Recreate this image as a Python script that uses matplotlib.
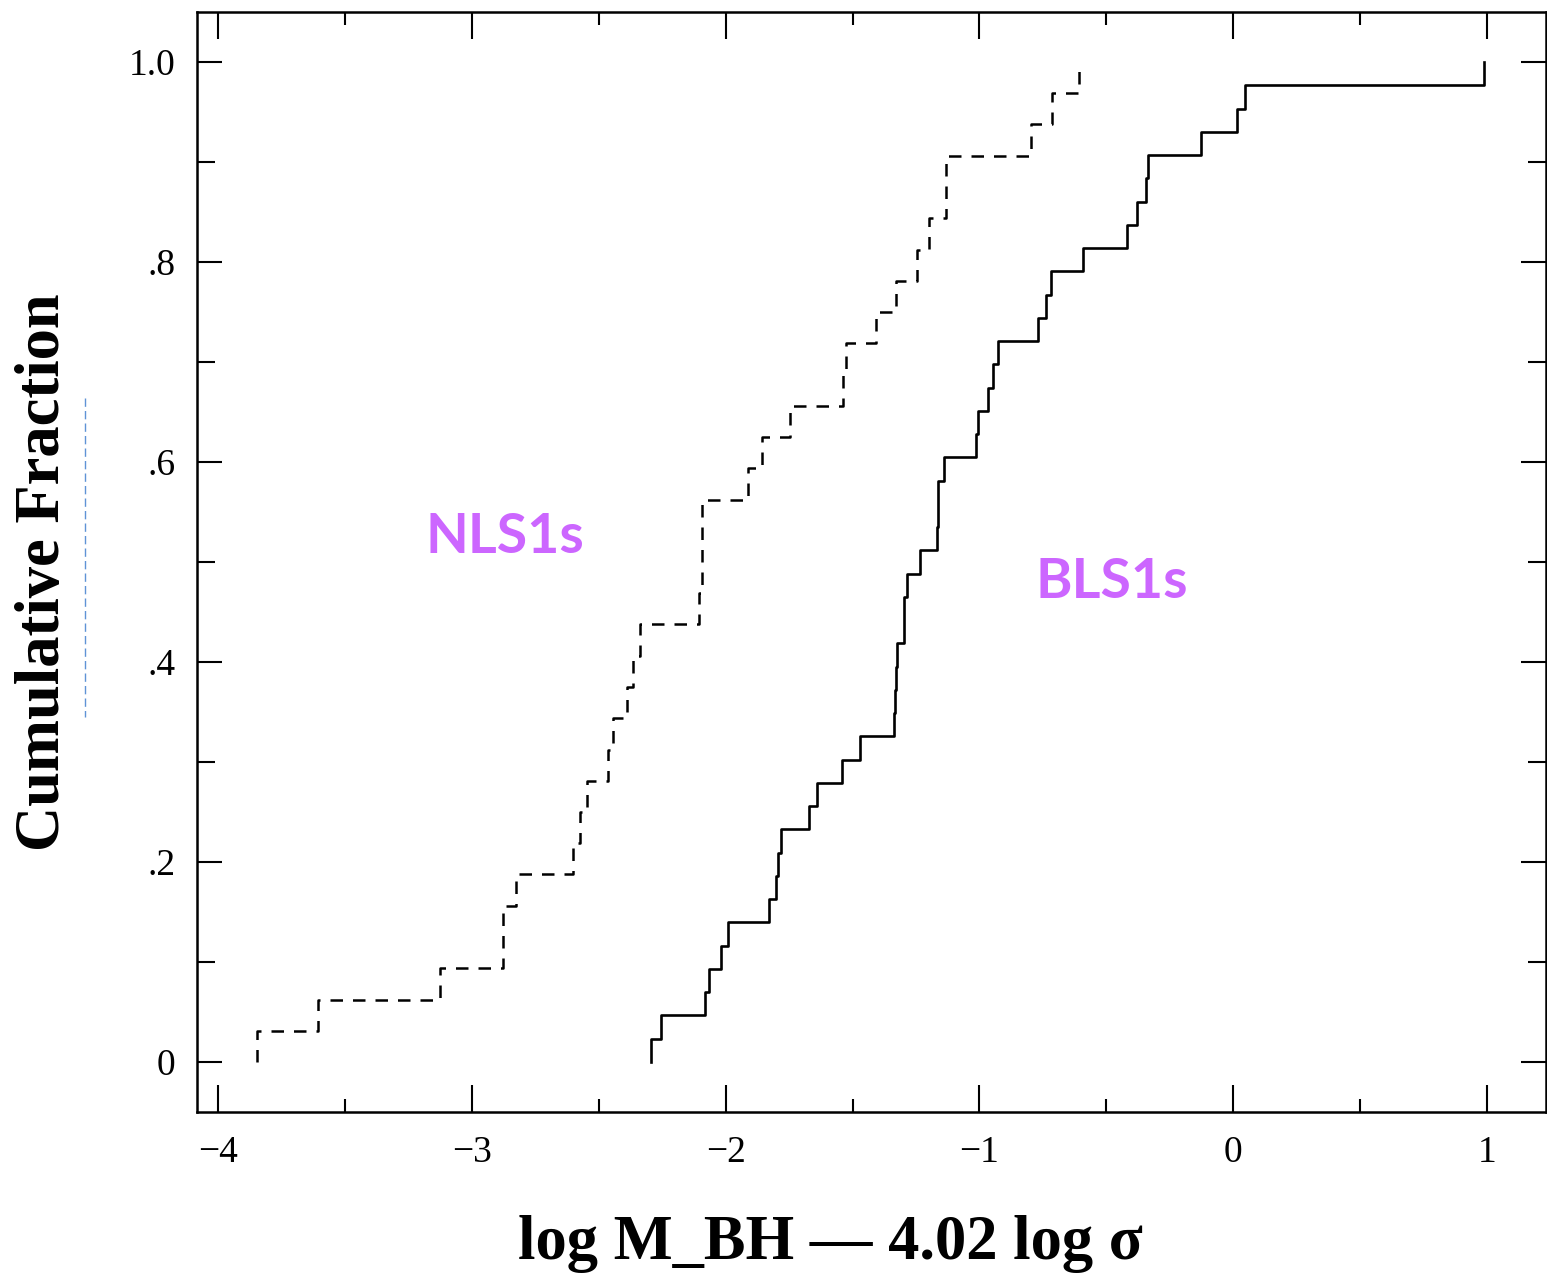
import numpy as np
import matplotlib
matplotlib.use("Agg")
import matplotlib.pyplot as plt
from matplotlib.lines import Line2D
from matplotlib.ticker import MultipleLocator, FixedLocator, FixedFormatter

# ---- data ----
nls_x = [-3.846, -3.606, -3.126, -2.878, -2.827, -2.602, -2.575, -2.547, -2.465,
         -2.445, -2.390, -2.366, -2.339, -2.106, -2.094, -1.913, -1.858, -1.748,
         -1.539, -1.524, -1.406, -1.327, -1.248, -1.197, -1.130, -0.795, -0.713,
         -0.606]
nls_y = [0.031, 0.062, 0.094, 0.156, 0.188, 0.219, 0.250, 0.281, 0.312,
         0.344, 0.375, 0.406, 0.438, 0.469, 0.562, 0.594, 0.625, 0.656,
         0.688, 0.719, 0.750, 0.781, 0.812, 0.844, 0.906, 0.938, 0.969,
         1.000]

bls_x = [-2.295, -2.256, -2.083, -2.067, -2.020, -1.992, -1.831, -1.803, -1.795,
         -1.783, -1.673, -1.642, -1.543, -1.469, -1.335, -1.331, -1.327, -1.325,
         -1.299, -1.287, -1.236, -1.169, -1.165, -1.138, -1.012, -1.004, -0.965,
         -0.945, -0.925, -0.768, -0.736, -0.717, -0.594, -0.417, -0.378, -0.343,
         -0.335, -0.126, 0.016, 0.047, 0.988]
bls_y = [0.023, 0.047, 0.070, 0.093, 0.116, 0.140, 0.163, 0.186, 0.209,
         0.233, 0.256, 0.279, 0.302, 0.326, 0.349, 0.372, 0.395, 0.419,
         0.465, 0.488, 0.512, 0.535, 0.581, 0.605, 0.628, 0.651, 0.674,
         0.698, 0.721, 0.744, 0.767, 0.791, 0.814, 0.837, 0.860, 0.884,
         0.907, 0.930, 0.953, 0.977, 1.000]

x_ticks = [-4, -3, -2, -1, 0, 1]
x_tick_labels = ["\u22124", "\u22123", "\u22122", "\u22121", "0", "1"]
y_ticks = [0, 0.2, 0.4, 0.6, 0.8, 1.0]
y_tick_labels = ["0", ".2", ".4", ".6", ".8", "1.0"]

W, H = 1547, 1275
fig = plt.figure(figsize=(W / 100, H / 100), dpi=100)
ax = fig.add_axes([196.5 / W, 1 - 1112 / H, (1545.5 - 196.5) / W, (1112 - 12) / H])

serif = ["Liberation Serif", "DejaVu Serif"]

ax.plot([nls_x[0]] + nls_x, [0] + nls_y, drawstyle="steps-post", color="black",
        lw=1.8, linestyle=(0, (5, 4)))
ax.plot([bls_x[0]] + bls_x, [0] + bls_y, drawstyle="steps-post", color="black",
        lw=1.9)

ax.set_xlim(-4.0846, 1.230)
ax.set_ylim(-0.05, 1.05)

ax.xaxis.set_major_locator(FixedLocator(x_ticks))
ax.xaxis.set_major_formatter(FixedFormatter(x_tick_labels))
ax.xaxis.set_minor_locator(MultipleLocator(0.5))
ax.yaxis.set_major_locator(FixedLocator(y_ticks))
ax.yaxis.set_major_formatter(FixedFormatter(y_tick_labels))
ax.yaxis.set_minor_locator(MultipleLocator(0.1))

ax.tick_params(which="both", direction="in", top=True, right=True, width=1.5,
               color="black")
ax.tick_params(axis="x", which="major", length=19.5, pad=17)
ax.tick_params(axis="x", which="minor", length=9.5)
ax.tick_params(axis="y", which="major", length=18, pad=15)
ax.tick_params(axis="y", which="minor", length=13)
for lab in ax.get_xticklabels() + ax.get_yticklabels():
    lab.set_fontfamily(serif)
    lab.set_fontsize(27)
for sp in ax.spines.values():
    sp.set_linewidth(1.8)

ax.text(-2.869, 0.525, "NLS1s", color="#cc66ff", fontsize=40, fontweight="bold",
        family=["Lato", "DejaVu Sans"], ha="center", va="center")
ax.text(-0.48, 0.48, "BLS1s", color="#cc66ff", fontsize=40, fontweight="bold",
        family=["Lato", "DejaVu Sans"], ha="center", va="center")

fig.text(44 / W, 1 - 572 / H, "Cumulative Fraction", rotation=90, ha="center",
         va="center", fontsize=45, fontweight="bold", family=serif)
fig.text(830 / W, 1 - 1244 / H, "log M_BH \u2013\u2013 4.02 log \u03c3", ha="center",
         va="center", fontsize=45, fontweight="bold", family=serif)

fig.add_artist(Line2D([85 / W, 85 / W], [1 - 398 / H, 1 - 717 / H],
                      transform=fig.transFigure, color="#5f93d6", lw=1.0,
                      linestyle=(0, (6, 3))))

fig.savefig("out.png", dpi=100)
